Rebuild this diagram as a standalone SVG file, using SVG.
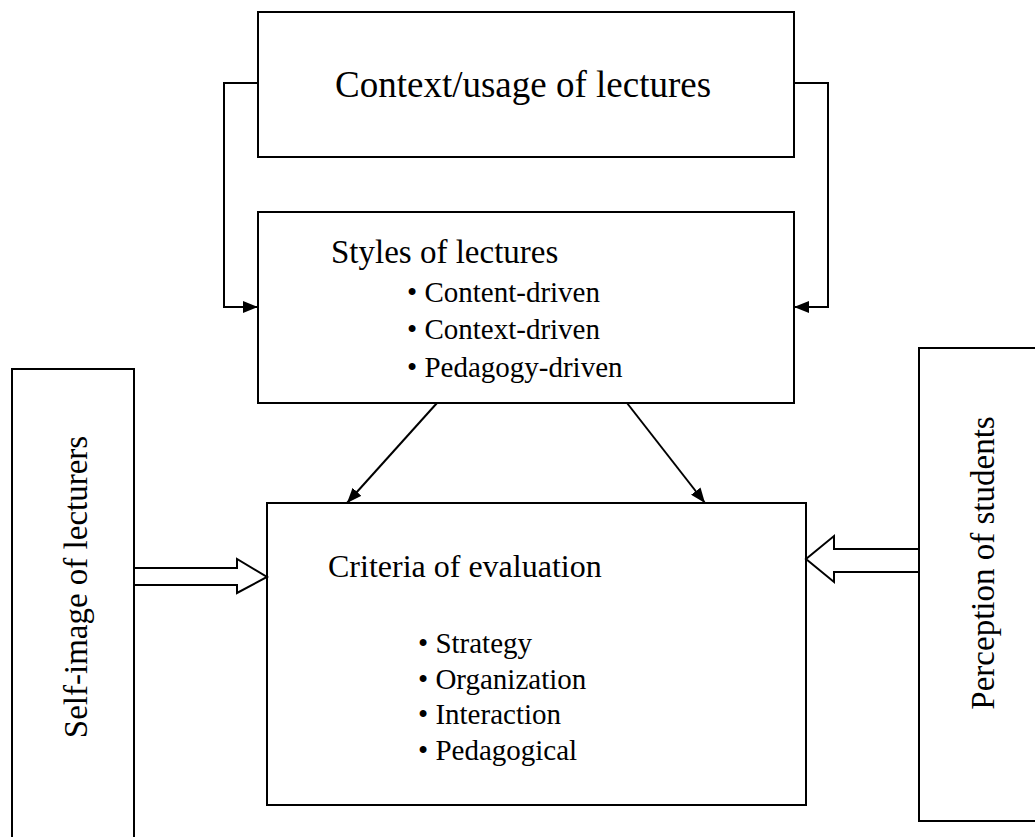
<svg xmlns="http://www.w3.org/2000/svg" width="1035" height="837" viewBox="0 0 1035 837">
  <style>
    .box { fill: #ffffff; stroke: #000000; stroke-width: 2; }
    .t { font-family: 'Liberation Serif', 'Times New Roman', Times, 'DejaVu Serif', serif; fill: #000000; }
    .h1 { font-size: 37px; }
    .h2 { font-size: 33px; }
    .h3 { font-size: 32px; }
    .li { font-size: 29px; }
    .conn { fill: none; stroke: #000000; stroke-width: 2; }
    .hollow { fill: #ffffff; stroke: #000000; stroke-width: 2; stroke-linejoin: miter; }
  </style>
  <defs>
    <marker id="ah" markerWidth="15" markerHeight="12" refX="15" refY="6" orient="auto" markerUnits="userSpaceOnUse">
      <path d="M0,0 L15,6 L0,12 Z" fill="#000000"/>
    </marker>
  </defs>
  <rect width="1035" height="837" fill="#ffffff"/>

  <g id="context">
    <rect class="box" x="258" y="12" width="536" height="145"/>
    <text class="t h1" x="335" y="97">Context/usage of lectures</text>
  </g>

  <g id="styles">
    <rect class="box" x="258" y="212" width="536" height="191"/>
    <text class="t h2" x="331" y="263">Styles of lectures</text>
    <text class="t li" x="407" y="302">• Content-driven</text>
    <text class="t li" x="407" y="339">• Context-driven</text>
    <text class="t li" x="407" y="377">• Pedagogy-driven</text>
  </g>

  <g id="criteria">
    <rect class="box" x="267" y="503" width="539" height="302"/>
    <text class="t h3" x="328" y="577">Criteria of evaluation</text>
    <text class="t li" x="418" y="653">• Strategy</text>
    <text class="t li" x="418" y="689">• Organization</text>
    <text class="t li" x="418" y="724">• Interaction</text>
    <text class="t li" x="418" y="760">• Pedagogical</text>
  </g>

  <g id="self-image">
    <rect class="box" x="12" y="369" width="122" height="500"/>
    <text class="t h2" transform="translate(87,587) rotate(-90)" text-anchor="middle">Self-image of lecturers</text>
  </g>

  <g id="perception">
    <rect class="box" x="919" y="348" width="130" height="473"/>
    <text class="t h2" transform="translate(994,563) rotate(-90)" text-anchor="middle">Perception of students</text>
  </g>

  <g id="connectors">
    <path class="conn" d="M258,83 H224 V307 H258" marker-end="url(#ah)"/>
    <path class="conn" d="M794,83 H828 V307 H794" marker-end="url(#ah)"/>
    <line class="conn" x1="437" y1="403" x2="347" y2="503" marker-end="url(#ah)"/>
    <line class="conn" x1="627" y1="403" x2="705" y2="503" marker-end="url(#ah)"/>
    <polygon class="hollow" points="134,568 237,568 237,559 267,577 237,593 237,585 134,585"/>
    <polygon class="hollow" points="919,549 834,549 834,536 806,559 834,582 834,572 919,572"/>
  </g>
</svg>
